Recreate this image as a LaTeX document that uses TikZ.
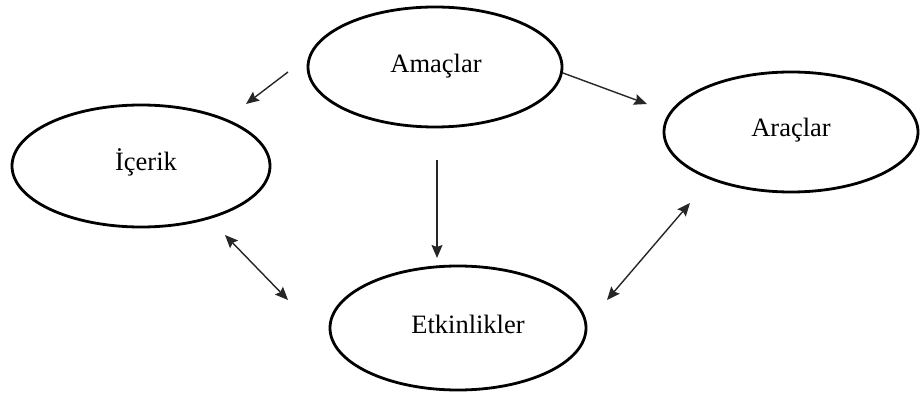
\documentclass[tikz,border=0pt]{standalone}
\usepackage{fontspec}
\setmainfont{Liberation Serif}
\usetikzlibrary{shapes.geometric,arrows.meta}
\begin{document}
\begin{tikzpicture}[x=1pt,y=-1pt,
  oval/.style={draw, line width=2.8pt, ellipse, minimum width=254pt, minimum height=120pt, inner sep=0pt},
  word/.style={anchor=base, inner sep=0pt, font=\fontsize{26.5}{30}\selectfont},
  link/.style={line width=1.4pt, draw=black!85, -{Stealth[length=13pt,width=11pt,inset=2pt]}},
  twoway/.style={line width=1.4pt, draw=black!85, {Stealth[length=13pt,width=11pt,inset=2pt]}-{Stealth[length=13pt,width=11pt,inset=2pt]}}]
\useasboundingbox (0,0) rectangle (920,403);
% the four ovals
\node[oval] (amac) at (435,67) {};
\node[oval, minimum width=258pt, minimum height=122pt] (icerik) at (141,166) {};
\node[oval] (arac) at (791,132) {};
\node[oval, minimum width=256pt, minimum height=124pt] (etk) at (458,328) {};
% their labels
\node[word] (tamac) at (436,73) {Amaçlar};
\node[word] (ticerik) at (146,171) {İçerik};
\node[word] (tarac) at (791,137) {Araçlar};
\node[word] (tetk) at (468,333) {Etkinlikler};
% arrow end points
\coordinate (a1) at (288,72);  \coordinate (b1) at (246,104);
\coordinate (a2) at (563,73);  \coordinate (b2) at (647,104);
\coordinate (a3) at (225,235); \coordinate (b3) at (288,300);
\coordinate (a4) at (690,203); \coordinate (b4) at (607,300);
\coordinate (a5) at (437,160); \coordinate (b5) at (437,258);
% connectors
\draw[link] (a1) -- (b1);
\draw[link] (a2) -- (b2);
\draw[link] (a5) -- (b5);
\draw[twoway] (a3) -- (b3);
\draw[twoway] (a4) -- (b4);
\end{tikzpicture}
\end{document}
